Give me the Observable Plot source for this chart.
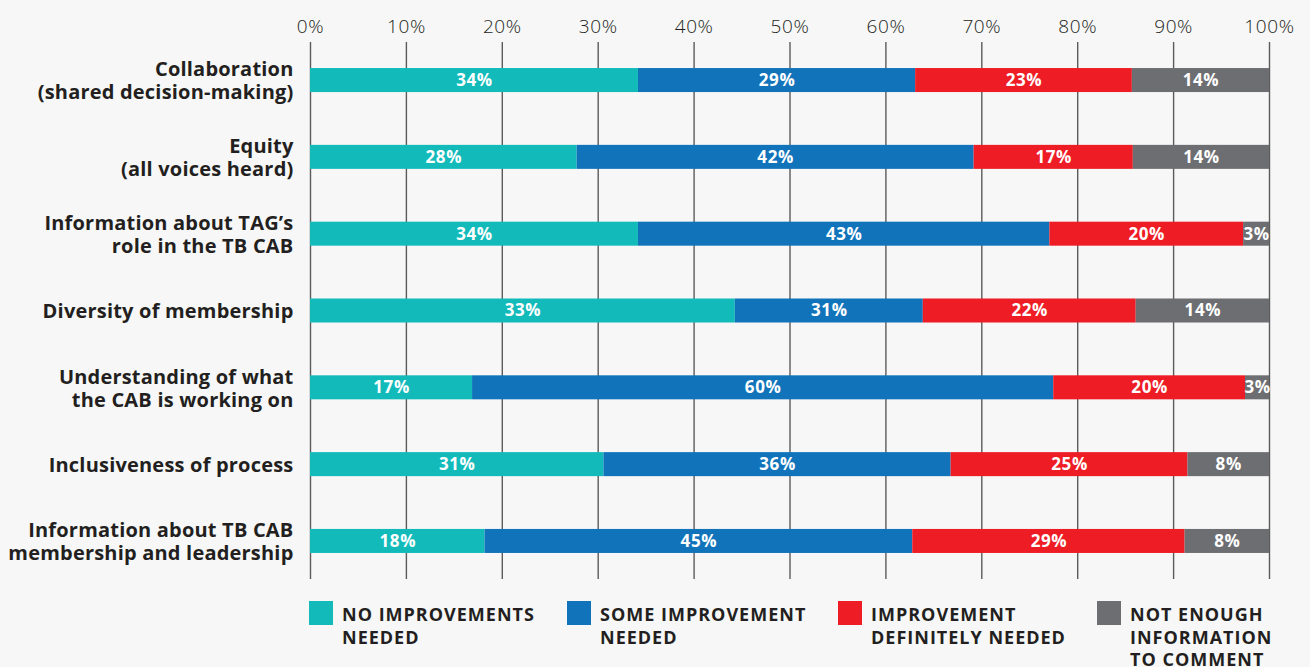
<!DOCTYPE html>
<html>
<head>
<meta charset="utf-8">
<script src="https://cdn.jsdelivr.net/npm/d3@7"></script>
<script src="https://cdn.jsdelivr.net/npm/@observablehq/plot@0.6"></script>
<style>
  html, body { margin: 0; padding: 0; background: #f7f7f7; }
  body { width: 1310px; height: 667px; overflow: hidden; font-family: "Open Sans", sans-serif; }
  #legend { position: relative; height: 77px; }
  .item { position: absolute; top: 11px; display: flex; align-items: flex-start; }
  .sw { width: 24px; height: 24px; flex: none; }
  .lab { margin-left: 9px; margin-top: 2px; font-weight: 700; font-size: 18px; line-height: 22.5px; color: #231f20; letter-spacing: 1px; white-space: pre; }
  .xaxis text { letter-spacing: 0.6px; }
  .pct text { letter-spacing: 0.6px; }
  .cat text { letter-spacing: 0.2px; }
</style>
</head>
<body>
<div id="chart"></div>
<div id="legend"></div>
<script>
const categories = [
  "Collaboration\n(shared decision-making)",
  "Equity\n(all voices heard)",
  "Information about TAG’s\nrole in the TB CAB",
  "Diversity of membership",
  "Understanding of what\nthe CAB is working on",
  "Inclusiveness of process",
  "Information about TB CAB\nmembership and leadership"
];
const seriesNames = [
  "NO IMPROVEMENTS\nNEEDED",
  "SOME IMPROVEMENT\nNEEDED",
  "IMPROVEMENT\nDEFINITELY NEEDED",
  "NOT ENOUGH\nINFORMATION\nTO COMMENT"
];
const seriesColors = ["#12bbba", "#1174bb", "#ee1c25", "#6d6e72"];

// bar widths as drawn (percent of axis)
const noImprovement    = [34.2, 27.8, 34.2, 44.3, 16.9, 30.6, 18.2];
const someImprovement  = [28.9, 41.4, 42.9, 19.6, 60.6, 36.2, 44.6];
const definitelyNeeded = [22.6, 16.6, 20.2, 22.2, 20.0, 24.7, 28.4];
const notEnoughInfo    = [14.3, 14.2, 2.7, 13.9, 2.5, 8.5, 8.8];

// printed labels
const noImprovementLabels    = [34, 28, 34, 33, 17, 31, 18];
const someImprovementLabels  = [29, 42, 43, 31, 60, 36, 45];
const definitelyNeededLabels = [23, 17, 20, 22, 20, 25, 29];
const notEnoughInfoLabels    = [14, 14, 3, 14, 3, 8, 8];

const xTicks = [0, 10, 20, 30, 40, 50, 60, 70, 80, 90, 100];

const values = [noImprovement, someImprovement, definitelyNeeded, notEnoughInfo];
const labels = [noImprovementLabels, someImprovementLabels, definitelyNeededLabels, notEnoughInfoLabels];

const rows = categories.flatMap((c, i) =>
  seriesNames.map((s, j) => ({category: c, series: s, value: values[j][i], label: labels[j][i] + "%"}))
);

const font = "'Open Sans', sans-serif";

const chart = Plot.plot({
  width: 1310,
  height: 590,
  marginLeft: 310,
  marginRight: 41,
  marginTop: 42,
  marginBottom: 11,
  style: {background: "transparent", fontFamily: font, color: "#231f20"},
  x: {domain: [0, 100]},
  y: {domain: categories, axis: null, round: false, paddingInner: 0.6875, paddingOuter: 0.339},
  color: {domain: seriesNames, range: seriesColors},
  marks: [
    Plot.ruleX(xTicks, {stroke: "#5b5b5b", strokeWidth: 1.4}),
    Plot.axisX({anchor: "top", ticks: xTicks, tickFormat: d => d + "%", tickSize: 0, tickPadding: 10, fontSize: 19, fontWeight: 300, label: null, fill: "#231f20", className: "xaxis"}),
    Plot.barX(rows, Plot.stackX({x: "value", y: "category", fill: "series", order: seriesNames})),
    Plot.text(rows, Plot.stackX({x: "value", y: "category", z: "series", text: "label", fill: "white", fontWeight: 700, fontSize: 17, order: seriesNames, className: "pct"})),
    Plot.text(categories, {x: 0, y: d => d, text: d => d, textAnchor: "end", dx: -17, fontWeight: 700, fontSize: 20, lineHeight: 1.15, fill: "#231f20", className: "cat"})
  ]
});
document.getElementById("chart").appendChild(chart);

const legendLefts = [309, 567, 838, 1097];
const legend = document.getElementById("legend");
seriesNames.forEach((s, i) => {
  const item = document.createElement("div");
  item.className = "item";
  item.style.left = legendLefts[i] + "px";
  item.innerHTML = `<div class="sw" style="background:${seriesColors[i]}"></div><div class="lab"></div>`;
  item.querySelector(".lab").textContent = s;
  legend.appendChild(item);
});
</script>
</body>
</html>
